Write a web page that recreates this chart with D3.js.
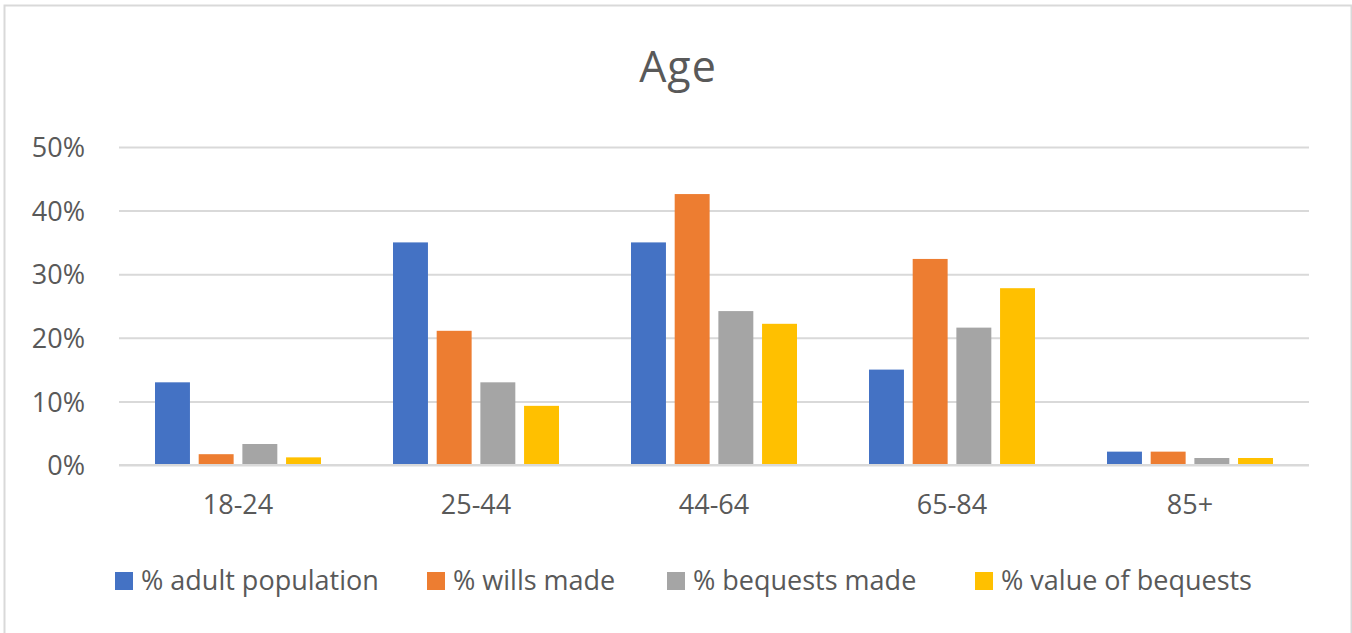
<!DOCTYPE html>
<html>
<head>
<meta charset="utf-8">
<script src="https://cdn.jsdelivr.net/npm/d3@7"></script>
<style>
  html, body { margin: 0; padding: 0; background: #fff; }
  svg { display: block; font-family: "Open Sans", sans-serif; }
</style>
</head>
<body>
<svg id="chart" width="1352" height="633"></svg>
<script>
// Age groups and the share of each measure falling in that group (%)
const ageGroups = ["18-24", "25-44", "44-64", "65-84", "85+"];
const seriesNames = ["% adult population", "% wills made", "% bequests made", "% value of bequests"];
const adultPopulation = [13.0, 35.0, 35.0, 15.0, 2.1];
const willsMade       = [1.7, 21.1, 42.6, 32.4, 2.1];
const bequestsMade    = [3.3, 13.0, 24.2, 21.6, 1.1];
const valueOfBequests = [1.2, 9.3, 22.2, 27.8, 1.1];
const yTicks = [0, 10, 20, 30, 40, 50];
const seriesColors = ["#4472c4", "#ed7d31", "#a5a5a5", "#ffc000"];

const seriesValues = [adultPopulation, willsMade, bequestsMade, valueOfBequests];
const rows = ageGroups.map((g, i) => ({
  group: g,
  values: seriesNames.map((s, j) => ({ series: s, idx: j, value: seriesValues[j][i] }))
}));

const svg = d3.select("#chart");
const W = 1352, H = 633;
const textColor = "#595959";
const gridColor = "#d9d9d9";
const labelSize = 27;

// Outer chart frame
svg.append("rect")
  .attr("x", 4.5).attr("y", 5.5)
  .attr("width", W - 5).attr("height", H)
  .attr("fill", "#fff")
  .attr("stroke", gridColor).attr("stroke-width", 2);

const plot = { left: 119, right: 1309, top: 147, bottom: 465 };

const x0 = d3.scaleBand().domain(ageGroups).range([plot.left, plot.right]).padding(0);
const groupWidth = 166;
const x1 = d3.scaleBand().domain(seriesNames)
  .range([0, groupWidth]).paddingInner(0.2).paddingOuter(0);
const y = d3.scaleLinear().domain([0, 50]).range([plot.bottom, plot.top]);

// Title
svg.append("text")
  .attr("x", 678).attr("y", 82)
  .attr("text-anchor", "middle")
  .attr("fill", textColor)
  .attr("font-size", 43)
  .attr("letter-spacing", 1)
  .text("Age");

// Gridlines and y labels
const yAxis = d3.axisLeft(y)
  .tickValues(yTicks)
  .tickSize(-(plot.right - plot.left))
  .tickPadding(34)
  .tickFormat(d => d + "%");
const yg = svg.append("g")
  .attr("transform", `translate(${plot.left},0)`)
  .call(yAxis);
yg.select(".domain").remove();
yg.selectAll(".tick line").attr("stroke", gridColor).attr("stroke-width", 2);
yg.selectAll(".tick text")
  .attr("fill", textColor)
  .attr("font-size", labelSize)
  .attr("font-family", "Open Sans, sans-serif")
  .attr("dy", "0.36em");

// Bars
const groups = svg.append("g").selectAll("g")
  .data(rows).join("g")
  .attr("transform", d => `translate(${x0(d.group) + (x0.bandwidth() - groupWidth) / 2},0)`);
groups.selectAll("rect")
  .data(d => d.values).join("rect")
  .attr("x", d => x1(d.series))
  .attr("width", x1.bandwidth())
  .attr("y", d => y(d.value))
  .attr("height", d => y(0) - y(d.value))
  .attr("fill", d => seriesColors[d.idx]);

// Zero line drawn over bar bottoms
svg.append("line")
  .attr("x1", plot.left).attr("x2", plot.right)
  .attr("y1", y(0)).attr("y2", y(0))
  .attr("stroke", gridColor).attr("stroke-width", 2);

// Category labels
const xAxis = d3.axisBottom(x0).tickSize(0).tickPadding(0);
const xg = svg.append("g")
  .attr("transform", `translate(0,${plot.bottom})`)
  .call(xAxis);
xg.select(".domain").remove();
xg.selectAll(".tick text")
  .attr("fill", textColor)
  .attr("font-size", labelSize)
  .attr("font-family", "Open Sans, sans-serif")
  .attr("y", 49)
  .attr("dy", 0);

// Legend
const legendX = [115, 427, 667, 975];
const legend = svg.append("g").selectAll("g")
  .data(seriesNames).join("g")
  .attr("transform", (d, i) => `translate(${legendX[i]},572)`);
legend.append("rect")
  .attr("width", 18).attr("height", 18)
  .attr("fill", (d, i) => seriesColors[i]);
legend.append("text")
  .attr("x", 26).attr("y", 18)
  .attr("fill", textColor)
  .attr("font-size", labelSize)
  .text(d => d);
</script>
</body>
</html>
